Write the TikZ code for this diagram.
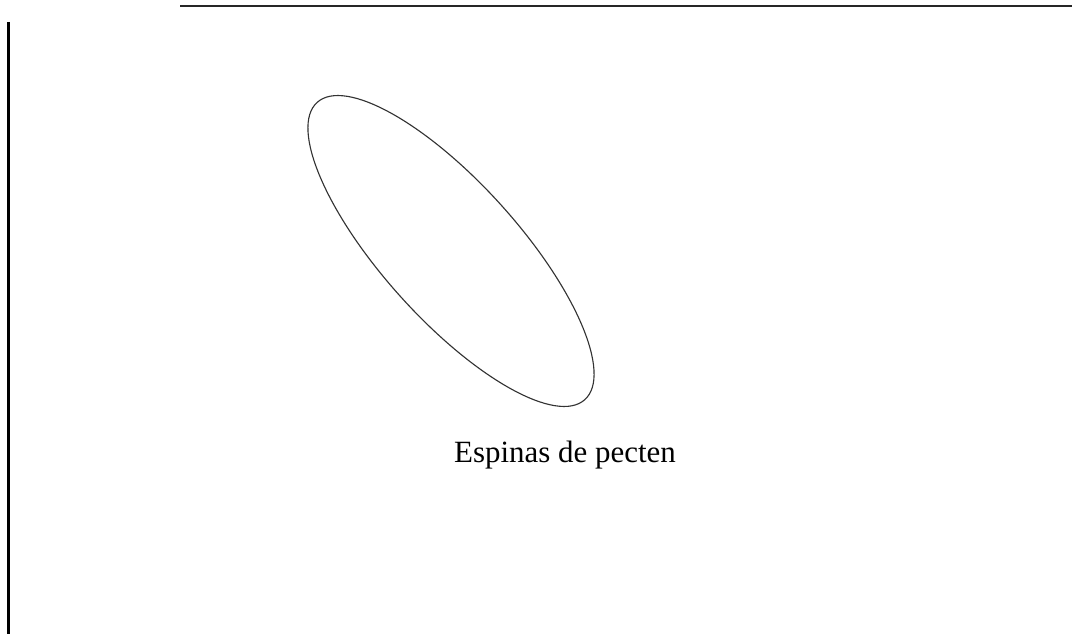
\documentclass[tikz,border=0pt]{standalone}
\usepackage{fontspec}
\setmainfont{Liberation Serif}
\usetikzlibrary{positioning}
\begin{document}
\begin{tikzpicture}[x=0.025cm, y=0.025cm,
  rim/.style={draw, black!80, line width=0.8pt},
  edge/.style={draw, black, line width=1.6pt},
  rule/.style={draw, black!85, line width=0.9pt},
  lbl/.style={font=\fontsize{22}{26}\selectfont, inner sep=0pt}
]
\useasboundingbox (0,0) rectangle (1072,634);
\coordinate (lt) at (8.5,612);
\coordinate (lb) at (8.5,0);
\coordinate (tl) at (180,628);
\coordinate (tr) at (1072,628);
\draw[edge] (lt) -- (lb);
\draw[rule] (tl) -- (tr);
\draw[rim, rotate around={-48:(451,383)}] (451,383) ellipse [x radius=200, y radius=68];
\node[lbl, anchor=base] (caption) at (565,172) {Espinas de pecten};
\end{tikzpicture}
\end{document}
